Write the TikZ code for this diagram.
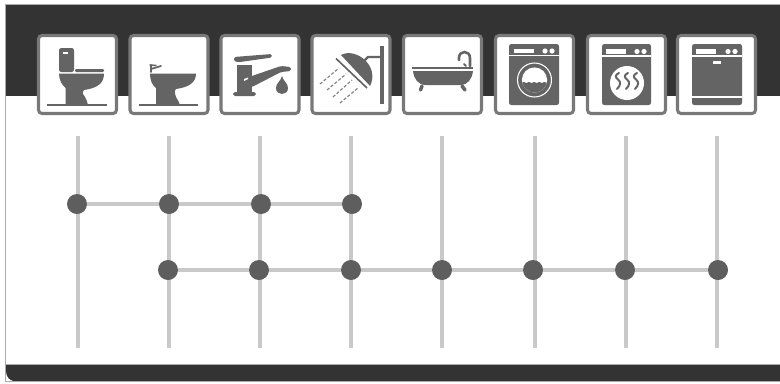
\documentclass[tikz,border=0pt]{standalone}
\usepackage{xcolor}
\usepackage{tikz}
\definecolor{band}{HTML}{333333}
\definecolor{frameline}{HTML}{ABABAB}
\definecolor{icon}{HTML}{646464}
\definecolor{edge}{HTML}{787878}
\definecolor{pipe}{HTML}{C9C9C9}
\definecolor{joint}{HTML}{5E5E5E}
\tikzset{
  tile/.style={draw=edge,fill=white,line width=2.6pt,rounded corners=3pt,minimum width=2.34cm,minimum height=2.34cm,inner sep=0pt},
  joint/.style={circle,fill=joint,minimum size=0.6cm,inner sep=0pt},
  riser/.style={draw=pipe,line width=3.2pt},
  branch/.style={draw=pipe,line width=2.8pt},
  ink/.style={fill=icon},
  floorline/.style={draw=icon,line width=1.4pt},
  stroke/.style={draw=icon,line width=#1,line cap=round},
  spray/.style={draw=icon!80,line width=1pt,dash pattern=on 2.6pt off 1.6pt},
  gap/.style={draw=white,line width=1pt},
}

\begin{document}
\begin{tikzpicture}[x=0.03cm,y=-0.03cm]
    \useasboundingbox (0,0) rectangle (780,383);
    \fill[white] (0,0) rectangle (780,383);
    \fill[band] (6,5) rectangle (780,96);
    \fill[band] (6,365) rectangle (780,380.5);
    \fill[white] (6,381) -- (6,372) .. controls (6.5,377) and (9,380) .. (13,381) -- cycle;
    \draw[frameline,line width=1.3pt] (780,4.5) -- (5.3,4.5) -- (5.3,381.5) -- (780,381.5);
    \draw[frameline,line width=0.9pt] (6,364.5) -- (780,364.5);

    \foreach \i/\x in {1/78,2/169,3/260,4/351,5/442,6/535,7/626,8/717}{
      \coordinate (top\i) at (\x,136);
      \coordinate (bot\i) at (\x,348);
      \draw[riser] (top\i) -- (bot\i);
    }

    \node[joint] (a1) at (77,204) {};
    \node[joint] (a2) at (169,204) {};
    \node[joint] (a3) at (261,204) {};
    \node[joint] (a4) at (352,204) {};
    \node[joint] (b2) at (168,270) {};
    \node[joint] (b3) at (259,270) {};
    \node[joint] (b4) at (351,270) {};
    \node[joint] (b5) at (442,270) {};
    \node[joint] (b6) at (533,270) {};
    \node[joint] (b7) at (625,270) {};
    \node[joint] (b8) at (718,270) {};
    \draw[branch] (a1) -- (a2);
    \draw[branch] (a2) -- (a3);
    \draw[branch] (a3) -- (a4);
    \draw[branch] (b2) -- (b3);
    \draw[branch] (b3) -- (b4);
    \draw[branch] (b4) -- (b5);
    \draw[branch] (b5) -- (b6);
    \draw[branch] (b6) -- (b7);
    \draw[branch] (b7) -- (b8);

    \foreach \name/\x in {toilet/77.5,bidet/169,tap/260,shower/351,bath/442.5,washer/534.5,dryer/626.5,dishwasher/716.5}
      \node[tile] (\name) at (\x,74.5) {};

    % toilet
    \fill[ink,rounded corners=2pt] (59,48) rectangle (74,72);
    \fill[white] (63,51.5) rectangle (68,53.5);
    \fill[ink,rounded corners=1pt] (75,69) rectangle (104,72);
    \fill[ink] (59,73.5) -- (104,73.5) .. controls (104,83) and (98,88) .. (84,90) .. controls (81,93) and (84,95) .. (85,97) .. controls (86,100) and (88,102) .. (88,105) -- (65.5,105) -- (65.5,88) .. controls (62,85) and (59,80) .. (59,73.5) -- cycle;
    \draw[floorline] (47,105) -- (107,105);

    % bidet
    \fill[ink] (150,73.5) -- (196,73.5) .. controls (196,82) and (190,87) .. (176,89) .. controls (173,92) and (176,94) .. (176,97) .. controls (177,100) and (180,102) .. (180,105) -- (156,105) -- (156,88) .. controls (152,85) and (150,80) .. (150,73.5) -- cycle;
    \draw[stroke=1.6pt] (151,65) -- (151,72);
    \draw[stroke=1.5pt] (151,69) -- (161,66);
    \draw[stroke=1.3pt] (150,65) -- (156,65.5);
    \draw[floorline] (139,105) -- (198,105);

    % tap
    \fill[ink,rounded corners=1.5pt] (234,57) -- (272,54) -- (272,57.5) -- (240,62) -- (234,61.5) -- cycle;
    \fill[ink] (237,65) rectangle (252,92);
    \fill[ink,rounded corners=1.5pt] (233,92) rectangle (256,96);
    \fill[ink,rounded corners=1.5pt] (246,78) -- (281,66) -- (291,67) -- (291,71) -- (281,72) -- (252,87) -- (246,87) -- cycle;
    \fill[white] (244,79) -- (248,77.5) -- (248,79) -- (244,81) -- cycle;
    \fill[ink] (282,76) .. controls (283,81) and (288,83) .. (288,88) .. controls (288,96) and (276,96) .. (276,88) .. controls (276,83) and (281,81) .. (282,76) -- cycle;

    % shower
    \draw[draw=icon,line width=2.6pt] (382,46) -- (382,104);
    \draw[draw=icon,line width=2pt] (382,57) -- (368,57) -- (361,64);
    \fill[ink] (341,55) .. controls (356,47) and (380,66) .. (370,86) -- cycle;
    \draw[gap,line width=0.8pt] (338,57) -- (369,86);
    \draw[draw=icon,line width=1.4pt] (336,58.5) -- (367,88);
    \draw[spray] (320,84) -- (339,68);
    \draw[spray] (327,90) -- (346,74);
    \draw[spray] (333,97) -- (352,80);
    \draw[spray] (340,103) -- (358,88);

    % bath
    \draw[draw=icon,line width=2pt] (412,68) -- (473,68);
    \fill[ink] (413,71) -- (473,71) .. controls (472,79) and (468,85) .. (460,85) -- (426,85) .. controls (418,85) and (414,79) .. (413,71) -- cycle;
    \draw[stroke=3pt] (422,86) -- (420.5,90);
    \draw[stroke=3pt] (462,86) -- (465,90);
    \draw[stroke=2.2pt] (470,66) -- (470,58) .. controls (470,50) and (459,50) .. (459,58) -- (459,60);
    \draw[stroke=1.6pt] (464,64) -- (466,66);

    % washer
    \fill[ink,rounded corners=2pt] (509,44) -- (559,44) -- (559,105) -- (509,105) -- cycle;
    \draw[gap] (509,55.5) -- (559,55.5);
    \fill[white] (514,48.5) rectangle (534,53);
    \fill[white] (545,51) circle (2.6);
    \fill[white] (552,51) circle (2.6);
    \draw[gap,line width=0.9pt] (534.5,80) circle (17);
    \fill[white] (534.5,80) circle (12.6);
    \begin{scope}
      \clip (534.5,80) circle (12.6);
      \fill[ink] plot[domain=0:30,samples=40] (520+\x,{82.5+0.5*sin(\x*70)}) -- (550,96) -- (520,96) -- cycle;
    \end{scope}

    % dryer
    \fill[ink,rounded corners=2pt] (602,44) -- (651,44) -- (651,105) -- (602,105) -- cycle;
    \draw[gap] (602,56) -- (651,56);
    \fill[white] (606,49) rectangle (626,54);
    \fill[white] (637,51.5) circle (2.6);
    \fill[white] (644,51.5) circle (2.6);
    \fill[white] (627,83) circle (17);
    \foreach \x in {618,627,636}
      \draw[stroke=1.7pt,shift={(\x,0)}] (1,73) .. controls (-3,75) and (-3,77) .. (0,79.5) .. controls (3,82) and (3,85) .. (-1,89);

    % dishwasher
    \fill[ink,rounded corners=2pt] (692,44) -- (742,44) -- (742,105) -- (692,105) -- cycle;
    \draw[gap] (692,56) -- (742,56);
    \draw[gap] (692,97) -- (742,97);
    \fill[white] (696,49) rectangle (716,54);
    \fill[white] (728,51.5) circle (2.6);
    \fill[white] (735,51.5) circle (2.6);
    \fill[white] (713,61) rectangle (721,63.5);
  \end{tikzpicture}
\end{document}
